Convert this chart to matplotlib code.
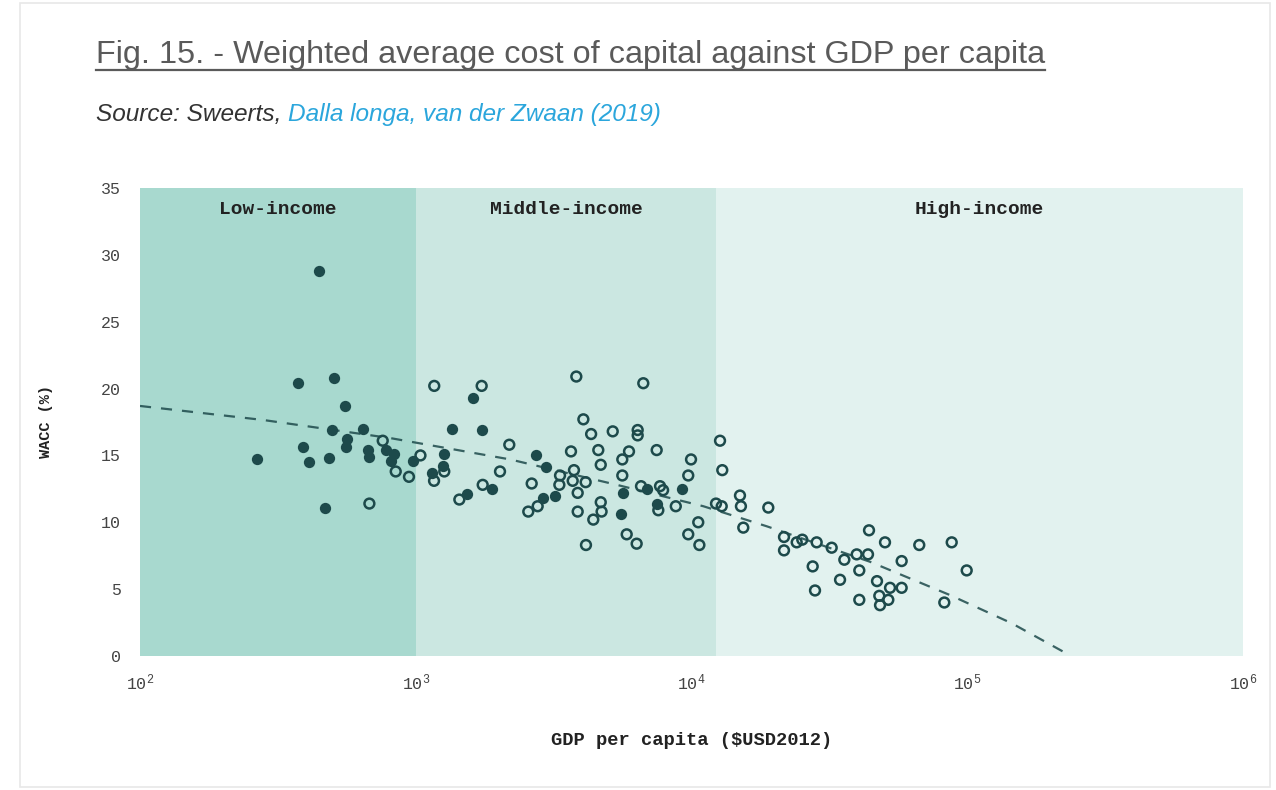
import matplotlib
matplotlib.use('Agg')
import matplotlib.pyplot as plt
from matplotlib.patches import Rectangle

plt.rcParams['mathtext.fontset'] = 'custom'
plt.rcParams['mathtext.rm'] = 'Liberation Mono'
plt.rcParams['mathtext.default'] = 'rm'

# countries drawn as filled dots: GDP per capita (USD 2012) and WACC (%)
gdp_filled = [375, 507, 554, 496, 645, 562, 558, 391, 266, 411, 485, 670, 675,
              778, 836, 811, 975, 469, 445, 1617, 1357, 1734, 1269, 1259, 1148,
              1530, 1886, 2730, 2960, 3199, 2901, 5660, 6917, 7477, 9262, 5550]
wacc_filled = [20.4, 20.8, 18.7, 16.9, 17.0, 16.2, 15.6, 15.6, 14.7, 14.5, 14.8,
               15.4, 14.9, 15.4, 15.1, 14.6, 14.6, 11.1, 28.8, 19.3, 17.0, 16.9,
               15.1, 14.2, 13.7, 12.1, 12.5, 15.0, 14.1, 12.0, 11.8, 12.2, 12.5,
               11.4, 12.5, 10.6]

# countries drawn as open circles
gdp_open = [759, 846, 945, 679, 1167, 1734, 3822, 6686, 4054, 1040, 1269, 1165,
            2184, 2021, 1749, 1439, 2633, 2559, 2768, 3656, 3336, 3748, 3708,
            3317, 3866, 4132, 3866, 4325, 5180, 6380, 6380, 12690, 4592, 5934,
            5611, 7477, 4687, 5611, 9960, 9733, 12930, 6560, 7689, 7888, 7580,
            8770, 4687, 4720, 4404, 5821, 6326, 4143, 10580, 9733, 10680, 12270,
            12870, 14990, 15110, 15410, 18990, 21650, 21650, 24070, 25220, 28440,
            32240, 27510, 28050, 34570, 35830, 39730, 40600, 43660, 44030, 50320,
            66990, 87830, 57830, 99540, 47070, 52480, 57830, 40600, 47980, 51730,
            48270, 82560]
wacc_open = [16.1, 13.8, 13.4, 11.4, 20.2, 20.2, 20.9, 20.4, 17.7, 15.0, 13.8, 13.1,
             15.8, 13.8, 12.8, 11.7, 12.9, 10.8, 11.2, 15.3, 13.5, 13.9, 13.1,
             12.8, 12.2, 13.0, 10.8, 16.6, 16.8, 16.9, 16.5, 16.1, 15.4, 15.3,
             14.7, 15.4, 14.3, 13.5, 14.7, 13.5, 13.9, 12.7, 12.7, 12.4, 10.9,
             11.2, 11.5, 10.8, 10.2, 9.1, 8.4, 8.3, 10.0, 9.1, 8.3, 11.4,
             11.2, 12.0, 11.2, 9.6, 11.1, 8.9, 7.9, 8.5, 8.7, 8.5,
             8.1, 6.7, 4.9, 5.7, 7.2, 7.6, 6.4, 7.6, 9.4, 8.5,
             8.3, 8.5, 7.1, 6.4, 5.6, 5.1, 5.1, 4.2, 4.5, 4.2,
             3.8, 4.0]

# trend line
trend_gdp = [100, 280, 807, 2200, 5360, 11040, 18750, 44360, 86500, 144900, 238000]
trend_wacc = [18.7, 17.65, 16.3, 14.7, 12.8, 11.2, 9.7, 7.05, 4.56, 2.45, 0.0]

# income groups
band_names = ['Low-income', 'Middle-income', 'High-income']
band_edges = [100, 1000, 12300, 1000000]
band_colors = ['#a8d9cf', '#cbe7e1', '#e2f2ef']

dark = '#1d4a4b'
mono = 'Liberation Mono'

fig = plt.figure(figsize=(12.76, 7.9), dpi=100)
fig.patches.append(Rectangle((20 / 1276, 3 / 790), 1250 / 1276, 784 / 790,
                             transform=fig.transFigure, fill=False,
                             edgecolor='#e8e8e8', linewidth=1.2))

ax = fig.add_axes([140 / 1276, 1 - 656 / 790, 1103 / 1276, 468 / 790])
ax.set_xscale('log')

for i in range(3):
    ax.axvspan(band_edges[i], band_edges[i + 1], color=band_colors[i], lw=0, zorder=0)
    mid = (band_edges[i] * band_edges[i + 1]) ** 0.5
    ax.text(mid, 33.4, band_names[i], ha='center', va='center', fontsize=14,
            fontweight='bold', family=mono, color='#222222')

ax.plot(trend_gdp, trend_wacc, ls=(0, (5, 4.5)), color=dark, lw=1.6, alpha=0.85, zorder=2)
ax.scatter(gdp_open, wacc_open, s=50, facecolors='none', edgecolors=dark,
           linewidths=1.8, zorder=3)
ax.scatter(gdp_filled, wacc_filled, s=66, color=dark, lw=0, zorder=4)

ax.set_xlim(100, 1000000)
ax.set_ylim(0, 35)
ax.set_xticks([1e2, 1e3, 1e4, 1e5, 1e6])
ax.set_xticklabels([r'$10^{2}$', r'$10^{3}$', r'$10^{4}$', r'$10^{5}$', r'$10^{6}$'])
ax.minorticks_off()
ax.set_yticks(range(0, 36, 5))
for s in ax.spines.values():
    s.set_visible(False)
ax.tick_params(length=0, labelsize=12, labelcolor='#444444')
ax.tick_params(axis='x', pad=12)
ax.tick_params(axis='y', pad=14)
for lab in ax.get_yticklabels():
    lab.set_family(mono)

ax.set_xlabel('GDP per capita ($USD2012)', family=mono, fontweight='bold',
              fontsize=13.5, labelpad=28, color='#222222')
ax.set_ylabel('WACC (%)', family=mono, fontweight='bold', fontsize=11,
              labelpad=34, color='#222222')

title = fig.text(96 / 1276, 1 - 63 / 790,
                 'Fig. 15. - Weighted average cost of capital against GDP per capita',
                 family='Liberation Sans', fontsize=23.3, color='#5a5a5a', va='baseline')
src = fig.text(96 / 1276, 1 - 121 / 790, 'Source: Sweerts, ', family='Liberation Sans',
               style='italic', fontsize=17.6, color='#333333', va='baseline')

fig.canvas.draw()
r = fig.canvas.get_renderer()
tb = title.get_window_extent(r).transformed(fig.transFigure.inverted())
fig.add_artist(plt.Line2D([tb.x0, tb.x1], [1 - 70 / 790, 1 - 70 / 790],
                          transform=fig.transFigure, color='#5a5a5a', lw=1.6))
sb = src.get_window_extent(r).transformed(fig.transFigure.inverted())
fig.text(sb.x1, 1 - 121 / 790, 'Dalla longa, van der Zwaan (2019)',
         family='Liberation Sans', style='italic', fontsize=17.6, color='#2ba6dc',
         va='baseline')

fig.savefig('out.png', dpi=100)
